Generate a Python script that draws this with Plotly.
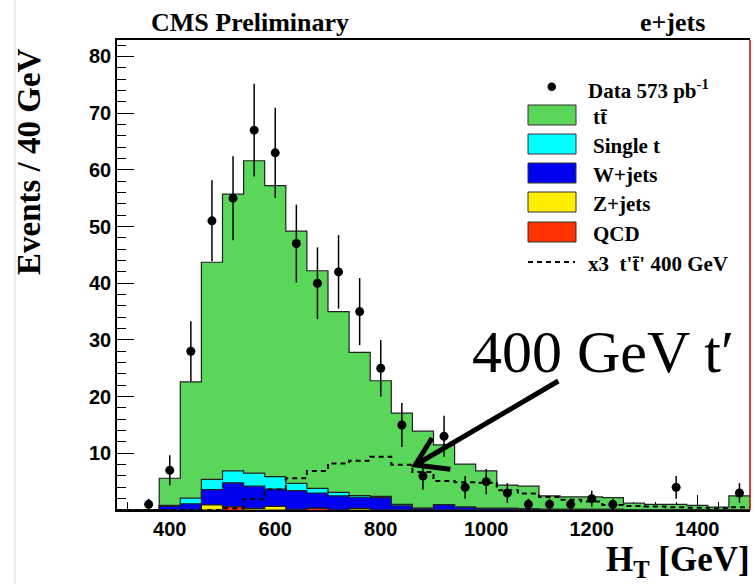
import numpy as np
import plotly.graph_objects as go

# ---------------- data (40 GeV bins from 300 to 1500 GeV) ----------------
bin_edges = list(range(300, 1501, 40))
data_counts = [0, 1, 7, 28, 51, 55, 67, 63, 47, 40, 42, 35, 25, 15, 6, 13, 4, 5, 3, 1,
               1, 1, 2, 1, 0, 0, 4, 0, 0, 3]
qcd = [0, 0, 0, 0, 0, 0.6, 0, 0, 0, 0.3, 0, 0, 0, 0, 0, 0, 0, 0, 0, 0,
       0, 0, 0, 0, 0, 0, 0, 0, 0, 0]
zjets = [0, 0, 0, 0, 0.9, 0, 0.3, 0.65, 0.1, 0, 0, 0.3, 0, 0, 0, 0, 0, 0, 0, 0,
         0, 0, 0, 0, 0, 0, 0, 0, 0, 0]
wjets = [0, 0, 0.7, 1.1, 2.7, 4.2, 3.9, 3.05, 3.3, 2.7, 2.5, 1.95, 2.2, 0.75, 0.3, 0.9, 0.5, 0.3, 0.3, 0.2,
         0.1, 0.1, 0.1, 0.1, 0, 0, 0, 0, 0, 0]
singlet = [0, 0, 0.1, 1.0, 1.8, 2.1, 2.3, 2.2, 1.3, 0.8, 0.6, 0.3, 0.2, 0.25, 0.05, 0.05, 0, 0, 0, 0,
           0, 0, 0, 0, 0, 0, 0, 0, 0, 0]
ttbar = [0, 0, 4.8, 20.5, 38.3, 48.8, 55.1, 51.3, 44.5, 38.4, 31.9, 25.25, 20.4, 16.1, 13.55, 10.55, 7.6, 6.6, 4.1, 4.0,
         2.4, 2.2, 2.2, 2.1, 1.2, 1.0, 1.0, 0.8, 0.5, 2.5]
tprime_x3 = [0, 0, 0, 0, 0, 0.3, 1.9, 3.6, 5.6, 6.9, 8.2, 8.7, 9.4, 8.0, 6.7, 5.1, 4.9, 4.8, 3.5, 2.9,
             2.3, 1.8, 1.5, 0.9, 0.7, 0.6, 0.5, 0.4, 0.3, 0.5]
x_ticks = [400, 600, 800, 1000, 1200, 1400]
y_ticks = [10, 20, 30, 40, 50, 60, 70, 80]

# ---------------- styling ----------------
C_TT = "#5ad65a"
C_ST = "#00ffff"
C_W = "#0000f0"
C_Z = "#ffee00"
C_QCD = "#ff3300"
SANS = "Liberation Sans"
SERIF = "Liberation Serif"

edges = np.array(bin_edges, dtype=float)
centers = 0.5 * (edges[:-1] + edges[1:])

def step(vals):
    v = list(vals) + [vals[-1]]
    return list(edges), v

lvl_q = np.array(qcd)
lvl_z = lvl_q + np.array(zjets)
lvl_w = lvl_z + np.array(wjets)
lvl_s = lvl_w + np.array(singlet)
lvl_t = lvl_s + np.array(ttbar)

fig = go.Figure()
for lvl, col in [(lvl_t, C_TT), (lvl_s, C_ST), (lvl_w, C_W), (lvl_z, C_Z), (lvl_q, C_QCD)]:
    xs, ys = step(lvl)
    fig.add_trace(go.Scatter(x=xs, y=ys, mode="lines", line=dict(shape="hv", color="#222", width=1.2),
                             fill="tozeroy", fillcolor=col, showlegend=False, hoverinfo="skip"))

xs, ys = step(tprime_x3)
fig.add_trace(go.Scatter(x=xs, y=ys, mode="lines", line=dict(shape="hv", color="black", width=2, dash="5px,4px"),
                         showlegend=False, hoverinfo="skip"))

dc = np.array(data_counts, dtype=float)
mask = dc > 0
fig.add_trace(go.Scatter(x=centers[mask], y=dc[mask], mode="markers",
                         marker=dict(color="black", size=9),
                         error_y=dict(type="data", array=np.sqrt(dc[mask]), color="black", thickness=1.5, width=0),
                         showlegend=False))

# ---------------- layout ----------------
W, H = 755, 584
L, R, T, B = 117, 5, 40, 74
PW, PH = W - L - R, H - T - B

def px(x):
    return (x - L) / PW

def py(y):
    return (T + PH - y) / PH

shapes = []
annotations = []

# right frame line (red) and page border line
shapes.append(dict(type="line", xref="paper", yref="paper", x0=1, x1=1, y0=0, y1=1,
                   line=dict(color="#c00000", width=1.5)))
shapes.append(dict(type="line", xref="paper", yref="paper", x0=px(15), x1=px(15), y0=py(0), y1=py(584),
                   line=dict(color="#dddddd", width=1)))

# arrow pointing to t' distribution
shapes.append(dict(type="path", xref="x", yref="y",
                   path="M 1136.6,22.75 L 865.5,7.94 M 897.2,12.7 L 865.5,7.94 L 931.9,7.2",
                   line=dict(color="black", width=5)))

def note(x, y, text, font, xa="center", ya="middle", **kw):
    annotations.append(dict(xref="paper", yref="paper", x=px(x), y=py(y), text=text, showarrow=False,
                            xanchor=xa, yanchor=ya, font=font, **kw))

# legend
leg_font = dict(family=SERIF, size=21, color="black", weight="bold")
rows = [(115, C_TT, "tt\u0304"), (144, C_ST, "Single t"), (173, C_W, "W+jets"),
        (202, C_Z, "Z+jets"), (232, C_QCD, "QCD")]
for yc, col, txt in rows:
    shapes.append(dict(type="rect", xref="paper", yref="paper", x0=px(528), x1=px(576),
                       y0=py(yc + 10), y1=py(yc - 10), fillcolor=col, line=dict(color="#333", width=1)))
    note(591, yc + 2, txt, leg_font, xa="left")
shapes.append(dict(type="circle", xref="paper", yref="paper", x0=px(547.5), x1=px(556), y0=py(91), y1=py(82.5),
                   fillcolor="black", line=dict(color="black", width=0)))
note(586, 89, "Data 573 pb<sup>-1</sup>", leg_font, xa="left")
shapes.append(dict(type="line", xref="paper", yref="paper", x0=px(528), x1=px(575), y0=py(262), y1=py(262),
                   line=dict(color="black", width=2, dash="5px,4px")))
note(586, 264, "x3  t't\u0304' 400 GeV", leg_font, xa="left")

# titles / labels
note(250, 22, "CMS Preliminary", dict(family=SERIF, size=26, color="black", weight="bold"))
note(672, 22, "e+jets", dict(family=SERIF, size=26, color="black", weight="bold"))
note(752, 561, "H<sub>T</sub> [GeV]", dict(family=SERIF, size=35, color="black", weight="bold"), xa="right")
note(29, 162, "Events / 40 GeV", dict(family=SERIF, size=33, color="black", weight="bold"), textangle=-90)
note(470, 352, "400 GeV t\u2032", dict(family=SERIF, size=60, color="black"), xa="left")

tick_font = dict(family=SANS, size=20, color="black", weight="bold")
fig.update_layout(
    width=W, height=H, margin=dict(l=L, r=R, t=T, b=B),
    paper_bgcolor="white", plot_bgcolor="white",
    xaxis=dict(range=[300, 1500], tickvals=x_ticks, ticks="inside", ticklen=15, tickwidth=1.2, tickcolor="black",
               showline=True, linecolor="black", linewidth=1.5, mirror=True, showgrid=False, zeroline=False,
               tickfont=tick_font, layer="below traces",
               minor=dict(dtick=40, ticks="inside", ticklen=8, tickcolor="black", showgrid=False)),
    yaxis=dict(range=[0, 82.9], tickvals=y_ticks, ticks="inside", ticklen=17, tickwidth=1.2, tickcolor="black",
               showline=True, linecolor="black", linewidth=1.5, mirror=False, showgrid=False, zeroline=False,
               tickfont=tick_font,
               minor=dict(dtick=2, ticks="inside", ticklen=9, tickcolor="black", showgrid=False)),
    shapes=shapes, annotations=annotations, showlegend=False,
)
fig.write_html("out.html")
